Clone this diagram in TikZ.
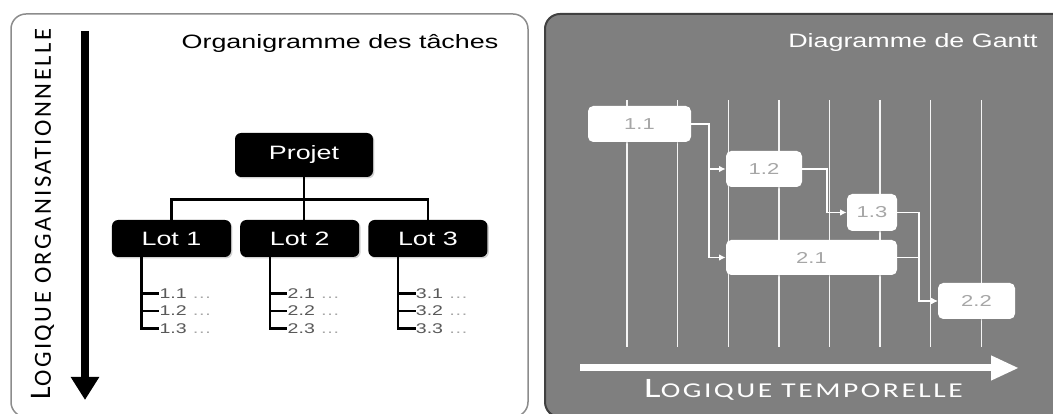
\documentclass[tikz,border=0pt]{standalone}
\usepackage{fontspec}
\setmainfont{Liberation Sans}
\newfontfamily\widesans[FakeStretch=1.39]{Liberation Sans}
\newfontfamily\capsfont[LetterSpace=10]{Carlito}
\newfontfamily\widecaps[FakeStretch=1.4,LetterSpace=12]{Carlito}
\usepackage{xcolor}
\usepackage{tikz}
\usetikzlibrary{arrows.meta,positioning,shadows}
\definecolor{ganttgrey}{HTML}{7F7F7F}
\definecolor{ganttedge}{HTML}{404040}
\definecolor{frameedge}{HTML}{8C8C8C}
\definecolor{itemtext}{HTML}{595959}
\definecolor{itemdots}{HTML}{A6A6A6}
\definecolor{barlabel}{HTML}{A6A6A6}
\newcommand{\orgaxis}{{\fontsize{17}{17}\selectfont L}{\fontsize{14}{14}\selectfont OGIQUE ORGANISATIONNELLE}}
\newcommand{\timeaxis}{{\fontsize{16}{16}\selectfont L}{\fontsize{12}{12}\selectfont OGIQUE TEMPORELLE}}
\tikzset{
  orgpanel/.style={draw=frameedge, line width=0.3mm, fill=white, rounded corners=3mm},
  ganttpanel/.style={draw=ganttedge, line width=0.4mm, fill=ganttgrey, rounded corners=3mm},
  paneltitle/.style={inner sep=0pt, font=\widesans\fontsize{11}{13}\selectfont},
  wbsbox/.style={
    rectangle, rounded corners=3.5pt, fill=black, text=white,
    minimum width=2.38cm, minimum height=0.74cm,
    font=\widesans\fontsize{11}{13}\selectfont,
    drop shadow={shadow xshift=0.8pt, shadow yshift=-0.8pt, opacity=0.35}
  },
  treeline/.style={black, line width=1.5pt},
  itemlabel/.style={anchor=west, inner sep=0pt, text=itemtext, font=\widesans\fontsize{8}{9}\selectfont},
  ganttbar/.style={
    rectangle, rounded corners=3pt, fill=white, text=barlabel,
    minimum height=0.72cm, font=\widesans\fontsize{9}{10}\selectfont,
    drop shadow={shadow xshift=0.8pt, shadow yshift=-0.8pt, opacity=0.4}
  },
  gridline/.style={white!92!ganttgrey, line width=0.8pt},
  ganttlink/.style={-{Latex[length=1.3mm,width=1.3mm]}, white, line width=1.1pt},
  bigdown/.style={-{Triangle[length=4.6mm,width=5.4mm]}, black, line width=1.6mm},
  bigright/.style={-{Triangle[length=5.6mm,width=4.6mm]}, white, line width=1.4mm},
}
\begin{document}
\begin{tikzpicture}[x=0.2mm, y=0.2mm]
  \useasboundingbox (0,0) rectangle (1053,414);
  \draw[orgpanel] (11,-3) rectangle (528,400);
  \draw[ganttpanel] (545,-3) rectangle (1070,400);

  % left: work breakdown
  \node[paneltitle] (orgtitle) at (340,371) {Organigramme des tâches};
  \coordinate (orgtop) at (85,383);
  \coordinate (orgend) at (85,14);
  \draw[bigdown] (orgtop) -- (orgend);
  \node[rotate=90, inner sep=0pt, font=\capsfont] (orglabel) at (43,200) {\orgaxis};

  \node[wbsbox, minimum width=2.76cm, minimum height=0.88cm] (projet) at (304,259) {Projet};
  \node[wbsbox] (lot1) at (171.5,175.5) {Lot 1};
  \node[wbsbox, right=0.17cm of lot1] (lot2) {Lot 2};
  \node[wbsbox, right=0.17cm of lot2] (lot3) {Lot 3};
  \draw[treeline] (projet.south) -- (projet.south |- lot2.north);
  \draw[treeline] (lot1.north) -- ++(0,20) -| (lot3.north);

  \foreach \l in {1,2,3} {
    \coordinate (spine\l) at ([xshift=6mm]lot\l.south west);
    \foreach \k/\dy in {1/7.2,2/10.7,3/14.2}
      \node[itemlabel] (item\l\k) at ([xshift=9.5mm,yshift=-\dy mm]lot\l.south west) {\l.\k\ \textcolor{itemdots}{…}};
    \draw[treeline] (spine\l) |- (item\l3.west);
    \draw[treeline] (spine\l |- item\l1.west) -- (item\l1.west);
    \draw[treeline] (spine\l |- item\l2.west) -- (item\l2.west);
  }

  % right: schedule
  \node[paneltitle, anchor=east, text=white] (gantttitle) at (1038,371) {Diagramme de Gantt};
  \foreach \i in {0,...,7}
    \draw[gridline] (627+50.6*\i,314) -- (627+50.6*\i,67);

  \node[ganttbar, minimum width=2.06cm] (t11) at (639.5,290) {1.1};
  \node[ganttbar, minimum width=1.52cm] (t12) at (764,245) {1.2};
  \node[ganttbar, minimum width=1cm, minimum height=0.74cm] (t13) at (872,201.5) {1.3};
  \node[ganttbar, minimum width=3.42cm, minimum height=0.7cm] (t21) at (811.5,156.5) {2.1};
  \node[ganttbar, minimum width=1.54cm] (t22) at (976.5,113) {2.2};
  \foreach \a/\b/\d in {t11/t12/18,t11/t21/18,t12/t13/25,t13/t22/22,t21/t22/22}
    \draw[ganttlink] (\a.east) -- ++(\d,0) |- (\b.west);

  \coordinate (timestart) at (580,46);
  \coordinate (timeend) at (1019,46);
  \draw[bigright] (timestart) -- (timeend);
  \node[inner sep=0pt, text=white, font=\widecaps] (timelabel) at (803.5,24) {\timeaxis};
\end{tikzpicture}
\end{document}
